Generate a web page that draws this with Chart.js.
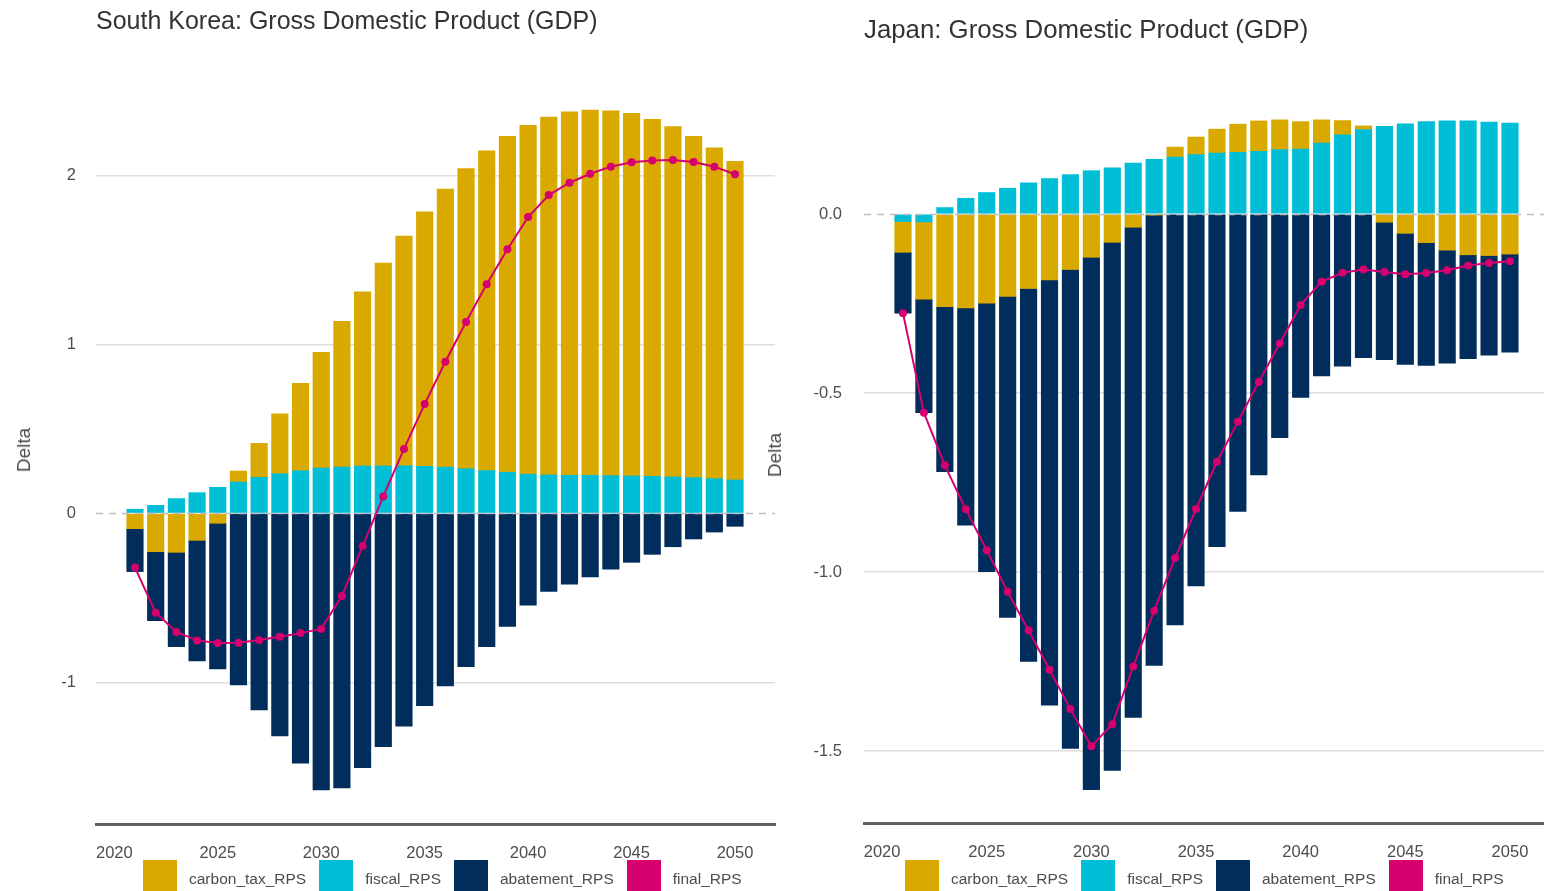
<!DOCTYPE html>
<html>
<head>
<meta charset="utf-8">
<title>GDP decomposition: South Korea and Japan</title>
<script src="https://cdn.jsdelivr.net/npm/chart.js@4/dist/chart.umd.min.js"></script>
<style>
  html, body { margin: 0; padding: 0; background: #fff; overflow: hidden; width: 1544px; height: 891px; }
  body { position: relative; font-family: 'Liberation Sans', Arial, sans-serif; }
  canvas { position: absolute; top: 0; }
  .title { position: absolute; font-size: 25px; line-height: 30px; color: #333; white-space: nowrap; }
  .ylab { position: absolute; font-size: 19px; line-height: 22px; color: #4d4d4d; white-space: nowrap;
          transform: translate(-50%, -50%) rotate(-90deg); }
  .legend { position: absolute; top: 860px; height: 34px; display: flex; align-items: center;
            font-size: 15.5px; color: #4d4d4d; white-space: nowrap; }
  .legend .sw { width: 34px; height: 34px; margin-right: 12px; flex: none; }
  .legend .tx { margin-right: 13px; padding-top: 3px; }
</style>
</head>
<body>
<canvas id="kr" width="790" height="891" style="left:0px"></canvas>
<canvas id="jp" width="810" height="891" style="left:750px"></canvas>

<div class="title" style="left:96px; top:5px;">South Korea: Gross Domestic Product (GDP)</div>
<div class="title" style="left:864px; top:14px; font-size:25.8px;">Japan: Gross Domestic Product (GDP)</div>
<div class="ylab" style="left:24px; top:450px;">Delta</div>
<div class="ylab" style="left:775px; top:455px;">Delta</div>
<div class="legend" id="legKr" style="left:143px;"></div>
<div class="legend" id="legJp" style="left:905px;"></div>

<script>
// Years on the x axis and the labelled ticks
const years = [2021, 2022, 2023, 2024, 2025, 2026, 2027, 2028, 2029, 2030,
               2031, 2032, 2033, 2034, 2035, 2036, 2037, 2038, 2039, 2040,
               2041, 2042, 2043, 2044, 2045, 2046, 2047, 2048, 2049, 2050];
const xTickYears = [2020, 2025, 2030, 2035, 2040, 2045, 2050];

// South Korea: GDP delta by component
const krFiscal = [0.024, 0.047, 0.087, 0.122, 0.154, 0.185, 0.213, 0.234, 0.252, 0.268,
                  0.274, 0.280, 0.280, 0.281, 0.278, 0.273, 0.264, 0.253, 0.243, 0.231,
                  0.227, 0.225, 0.225, 0.223, 0.221, 0.219, 0.215, 0.211, 0.205, 0.197];
const krCarbon = [-0.091, -0.227, -0.231, -0.160, -0.059, 0.065, 0.201, 0.354, 0.517, 0.685,
                  0.862, 1.031, 1.201, 1.359, 1.506, 1.646, 1.775, 1.892, 1.988, 2.065,
                  2.118, 2.151, 2.161, 2.159, 2.146, 2.112, 2.073, 2.020, 1.957, 1.886];
const krAbatement = [-0.254, -0.408, -0.558, -0.714, -0.862, -1.016, -1.164, -1.318, -1.478, -1.637,
                     -1.625, -1.505, -1.381, -1.259, -1.138, -1.022, -0.907, -0.789, -0.669, -0.543,
                     -0.462, -0.420, -0.377, -0.331, -0.290, -0.243, -0.198, -0.152, -0.111, -0.077];
const krFinal = [-0.321, -0.588, -0.702, -0.752, -0.767, -0.766, -0.750, -0.730, -0.709, -0.684,
                 -0.489, -0.194, 0.100, 0.381, 0.646, 0.897, 1.132, 1.356, 1.562, 1.753,
                 1.883, 1.956, 2.009, 2.051, 2.077, 2.088, 2.090, 2.079, 2.051, 2.006];
const krYTicks = [-1, 0, 1, 2];

// Japan: GDP delta by component
const jpFiscal = [-0.021, -0.022, 0.018, 0.044, 0.060, 0.072, 0.087, 0.099, 0.110, 0.121,
                  0.129, 0.142, 0.153, 0.159, 0.166, 0.170, 0.172, 0.175, 0.180, 0.181,
                  0.198, 0.221, 0.236, 0.245, 0.252, 0.258, 0.260, 0.260, 0.257, 0.254];
const jpCarbon = [-0.086, -0.216, -0.259, -0.262, -0.249, -0.230, -0.208, -0.184, -0.155, -0.121,
                  -0.079, -0.037, -0.003, 0.028, 0.049, 0.067, 0.079, 0.085, 0.083, 0.077,
                  0.065, 0.040, 0.010, -0.023, -0.054, -0.080, -0.101, -0.114, -0.116, -0.112];
const jpAbatement = [-0.170, -0.317, -0.461, -0.607, -0.750, -0.897, -1.042, -1.188, -1.338, -1.487,
                     -1.475, -1.369, -1.258, -1.148, -1.039, -0.929, -0.831, -0.729, -0.625, -0.512,
                     -0.452, -0.425, -0.401, -0.384, -0.366, -0.343, -0.316, -0.290, -0.278, -0.274];
const jpFinal = [-0.277, -0.555, -0.702, -0.825, -0.939, -1.055, -1.163, -1.273, -1.383, -1.487,
                 -1.425, -1.264, -1.108, -0.961, -0.824, -0.692, -0.580, -0.469, -0.362, -0.254,
                 -0.189, -0.164, -0.155, -0.162, -0.168, -0.165, -0.157, -0.144, -0.137, -0.132];
const jpYTicks = [-1.5, -1.0, -0.5, 0.0];

const seriesNames = ['carbon_tax_RPS', 'fiscal_RPS', 'abatement_RPS', 'final_RPS'];
const COLORS = {
  carbon_tax_RPS: '#D9A900',
  fiscal_RPS: '#00BED6',
  abatement_RPS: '#002D5C',
  final_RPS: '#D6006F'
};
const FONT = "'Liberation Sans', Arial, sans-serif";
const TEXT = '#4d4d4d';

const pts = vals => years.map((yr, i) => ({ x: yr, y: vals[i] }));

// dashed reference line at zero, painted over the bars and under the line
const zeroLine = {
  id: 'zeroLine',
  beforeDatasetDraw(chart, args) {
    if (args.meta.type !== 'line') return;
    const { ctx, chartArea: { left, right }, scales: { y } } = chart;
    const py = Math.round(y.getPixelForValue(0)) + 0.5;
    ctx.save();
    ctx.strokeStyle = '#bdbdbd';
    ctx.lineWidth = 1.5;
    ctx.setLineDash([7, 6]);
    ctx.beginPath();
    ctx.moveTo(left, py);
    ctx.lineTo(right, py);
    ctx.stroke();
    ctx.restore();
  }
};

function buildChart(id, p) {
  const barCommon = { stack: 'parts', barThickness: p.barWidth, order: 1, borderWidth: 0 };
  return new Chart(document.getElementById(id), {
    type: 'bar',
    data: {
      datasets: [
        Object.assign({ label: 'fiscal_RPS', data: pts(p.fiscal), backgroundColor: COLORS.fiscal_RPS }, barCommon),
        Object.assign({ label: 'carbon_tax_RPS', data: pts(p.carbon), backgroundColor: COLORS.carbon_tax_RPS }, barCommon),
        Object.assign({ label: 'abatement_RPS', data: pts(p.abatement), backgroundColor: COLORS.abatement_RPS }, barCommon),
        {
          type: 'line', label: 'final_RPS', data: pts(p.final), stack: 'final', order: 0,
          borderColor: COLORS.final_RPS, backgroundColor: COLORS.final_RPS,
          pointBackgroundColor: COLORS.final_RPS, pointBorderWidth: 0,
          borderWidth: 2, pointRadius: 4, tension: 0, fill: false
        }
      ]
    },
    options: {
      responsive: false,
      animation: false,
      devicePixelRatio: 1,
      layout: { padding: { left: 0, right: p.padRight, top: p.padTop, bottom: 0 } },
      plugins: { legend: { display: false }, tooltip: { enabled: false }, title: { display: false } },
      scales: {
        x: {
          type: 'linear', stacked: true, offset: false,
          min: p.xMin, max: p.xMax,
          grid: { display: false, offset: false },
          border: { display: true, color: '#5f5f5f', width: 3 },
          ticks: {
            autoSkip: false, maxRotation: 0, padding: 12, color: TEXT,
            font: { family: FONT, size: 16.5 },
            callback: v => String(v)
          },
          afterBuildTicks: s => { s.ticks = xTickYears.map(v => ({ value: v })); },
          afterFit: s => { s.height = p.xAxisHeight; }
        },
        y: {
          stacked: true,
          min: p.yMin, max: p.yMax,
          grid: {
            color: c => (c.tick && c.tick.value === 0) ? 'rgba(0,0,0,0)' : '#dedede',
            lineWidth: 1.5, drawTicks: false
          },
          border: { display: false },
          ticks: {
            padding: p.yPad, color: TEXT,
            font: { family: FONT, size: 16.5 },
            callback: p.yFormat
          },
          afterBuildTicks: s => { s.ticks = p.yTicks.map(v => ({ value: v })); },
          afterFit: s => { s.width = p.yAxisWidth; }
        }
      }
    },
    plugins: [zeroLine]
  });
}

buildChart('kr', {
  fiscal: krFiscal, carbon: krCarbon, abatement: krAbatement, final: krFinal,
  yTicks: krYTicks, yFormat: v => String(v),
  xMin: 2019.115, xMax: 2051.933, yMin: -1.8385, yMax: 2.6822,
  barWidth: 16.5, padTop: 60, padRight: 15, xAxisHeight: 67, yAxisWidth: 96, yPad: 20
});

buildChart('jp', {
  fiscal: jpFiscal, carbon: jpCarbon, abatement: jpAbatement, final: jpFinal,
  yTicks: jpYTicks, yFormat: v => v.toFixed(1),
  xMin: 2019.137, xMax: 2051.96, yMin: -1.7011, yMax: 0.4162,
  barWidth: 16.5, padTop: 65, padRight: 9, xAxisHeight: 68, yAxisWidth: 114, yPad: 22
});

// legends below each panel
function buildLegend(elId) {
  const el = document.getElementById(elId);
  seriesNames.forEach(name => {
    const sw = document.createElement('span');
    sw.className = 'sw';
    sw.style.background = COLORS[name];
    const tx = document.createElement('span');
    tx.className = 'tx';
    tx.textContent = name;
    el.appendChild(sw);
    el.appendChild(tx);
  });
}
buildLegend('legKr');
buildLegend('legJp');
</script>
</body>
</html>
